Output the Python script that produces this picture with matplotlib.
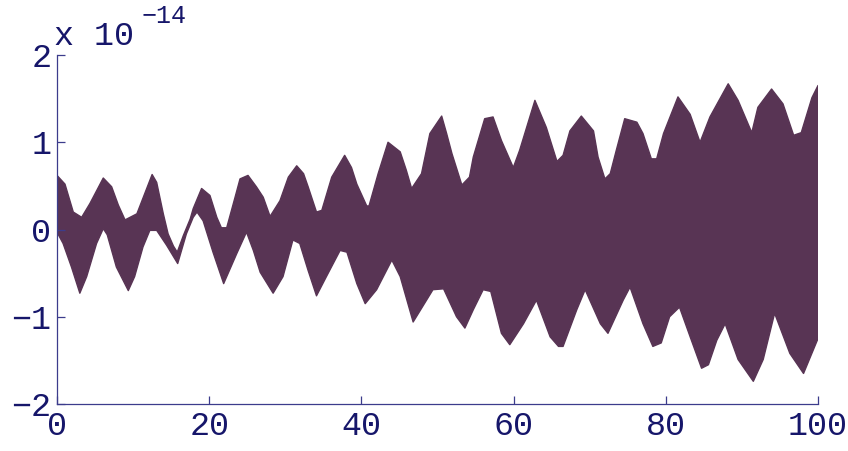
import matplotlib
matplotlib.use("Agg")
import matplotlib.pyplot as plt
import numpy as np

# Upper envelope of the dense oscillation (x, value in units of 1e-14)
upper_x = [0.0, 1.05, 2.14, 3.24, 4.34, 6.08, 7.18, 8.06, 8.94, 10.5, 12.5, 13.1, 13.97, 14.6,
           15.3, 15.8, 16.6, 17.5, 17.9, 19.0, 20.1, 21.0, 21.6, 22.3, 23.4, 24.05, 25.1, 26.2,
           27.1, 28.0, 29.3, 30.4, 31.5, 32.4, 33.0, 34.1, 34.8, 36.1, 37.8, 38.7, 39.4, 40.7,
           41.0, 42.2, 43.5, 45.1, 45.9, 46.6, 47.9, 49.0, 50.55, 51.2, 51.9, 53.2, 54.2, 54.7,
           56.2, 57.3, 58.4, 59.96, 60.8, 62.8, 64.3, 65.7, 66.5, 67.4, 68.9, 70.5, 71.1, 72.0,
           72.7, 73.5, 74.6, 76.2, 77.0, 78.1, 78.8, 79.7, 81.6, 83.2, 84.5, 85.8, 88.2, 89.5,
           91.3, 92.1, 93.9, 95.4, 96.8, 97.8, 99.2, 100.0]
upper_y = [0.62, 0.52, 0.20, 0.14, 0.30, 0.59, 0.49, 0.28, 0.11, 0.18, 0.63, 0.54, 0.18, -0.05,
           -0.19, -0.26, -0.07, 0.12, 0.24, 0.47, 0.39, 0.14, 0.02, 0.02, 0.37, 0.58, 0.62, 0.49,
           0.37, 0.15, 0.33, 0.60, 0.73, 0.64, 0.49, 0.20, 0.22, 0.60, 0.85, 0.71, 0.52, 0.27,
           0.27, 0.64, 1.00, 0.89, 0.68, 0.47, 0.64, 1.10, 1.30, 1.10, 0.87, 0.51, 0.60, 0.83,
           1.27, 1.29, 1.02, 0.71, 0.91, 1.48, 1.17, 0.78, 0.85, 1.13, 1.30, 1.13, 0.83, 0.58,
           0.64, 0.91, 1.27, 1.23, 1.10, 0.81, 0.81, 1.10, 1.52, 1.32, 1.00, 1.29, 1.67, 1.48,
           1.11, 1.40, 1.61, 1.44, 1.08, 1.11, 1.51, 1.65]

# Lower envelope
lower_x = [0.0, 0.8, 1.9, 3.0, 3.9, 5.2, 6.08, 6.6, 7.8, 9.37, 10.2, 11.3, 12.2, 13.1, 14.4,
           15.86, 17.0, 17.9, 18.4, 19.2, 20.5, 21.9, 23.6, 24.9, 25.8, 26.7, 28.4, 29.7, 31.0,
           31.9, 33.0, 34.1, 35.4, 37.2, 38.1, 39.4, 40.5, 42.0, 44.0, 45.1, 46.8, 49.4, 50.8,
           52.5, 53.6, 54.7, 56.0, 57.0, 58.4, 59.5, 61.3, 63.0, 64.8, 65.9, 66.5, 68.3, 69.4,
           71.4, 72.4, 74.4, 75.3, 77.0, 78.3, 79.4, 80.5, 81.8, 83.2, 84.7, 85.6, 86.7, 87.8,
           89.5, 91.5, 92.8, 94.3, 96.3, 98.1, 100.0]
lower_y = [-0.03, -0.16, -0.43, -0.73, -0.54, -0.16, 0.01, -0.06, -0.43, -0.70, -0.54, -0.20,
           -0.01, -0.01, -0.18, -0.39, -0.05, 0.14, 0.20, 0.10, -0.26, -0.62, -0.28, -0.03,
           -0.24, -0.49, -0.73, -0.54, -0.12, -0.16, -0.47, -0.76, -0.54, -0.24, -0.26, -0.62,
           -0.85, -0.69, -0.35, -0.54, -1.06, -0.69, -0.68, -1.00, -1.13, -0.92, -0.69, -0.71,
           -1.19, -1.32, -1.08, -0.81, -1.23, -1.34, -1.34, -0.92, -0.69, -1.08, -1.19, -0.81,
           -0.66, -1.08, -1.34, -1.30, -1.00, -0.89, -1.23, -1.59, -1.55, -1.27, -1.08, -1.49,
           -1.74, -1.49, -0.96, -1.42, -1.65, -1.25]

x_ticks = [0, 20, 40, 60, 80, 100]
y_ticks = [-2, -1, 0, 1, 2]
scale_label = "x 10"
scale_exp = "\u221214"

W, H = 848, 451
fig = plt.figure(figsize=(W / 100, H / 100), dpi=100)
ax = fig.add_axes([57 / W, 1 - 404 / H, (818 - 57) / W, (404 - 55) / H])

fill_color = "#583454"
ax.fill(np.concatenate([upper_x, lower_x[::-1]]),
        np.concatenate([upper_y, lower_y[::-1]]),
        color=fill_color, linewidth=1.0, edgecolor=fill_color, joinstyle="round")

ax.set_xlim(0, 100)
ax.set_ylim(-2, 2)
ax.set_xticks(x_ticks)
ax.set_yticks(y_ticks)

text_color = "#16166a"
spine_color = "#3c3c8c"
font = "Liberation Mono"
for s in ["top", "right"]:
    ax.spines[s].set_visible(False)
for s in ["left", "bottom"]:
    ax.spines[s].set_color(spine_color)
    ax.spines[s].set_linewidth(0.9)
ax.tick_params(direction="in", length=6, width=0.9, color=spine_color,
               labelcolor=text_color, labelsize=24)
ax.tick_params(axis="x", pad=5)
ax.tick_params(axis="y", pad=4)
for lab in ax.get_xticklabels() + ax.get_yticklabels():
    lab.set_family(font)

fig.text(54 / W, 1 - 45 / H, scale_label, family=font, fontsize=24,
         color=text_color, ha="left", va="baseline")
fig.text(142 / W, 1 - 23 / H, scale_exp, family=font, fontsize=18,
         color=text_color, ha="left", va="baseline")

fig.savefig("out.png", dpi=100)
